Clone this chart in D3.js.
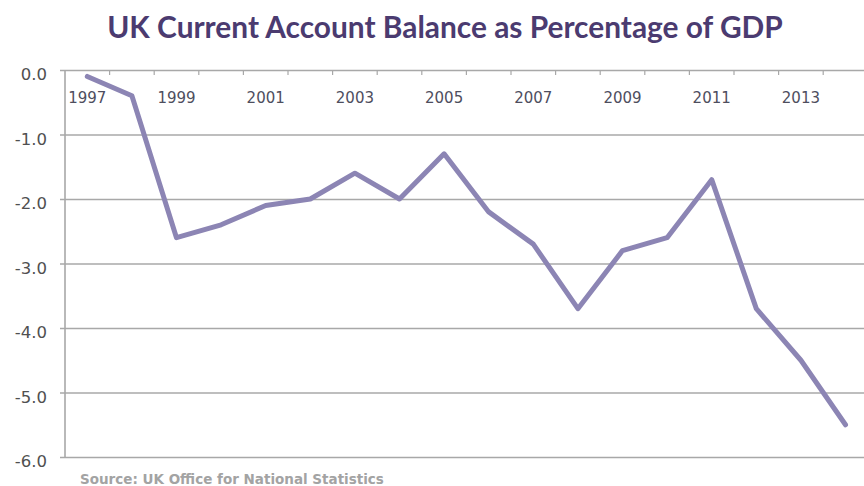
<!DOCTYPE html>
<html>
<head>
<meta charset="utf-8">
<script src="https://cdn.jsdelivr.net/npm/d3@7"></script>
<style>
  body { margin: 0; background: #fff; }
  svg { display: block; }
</style>
</head>
<body>
<svg width="864" height="486"></svg>
<script>
  // data
  var years = [1997, 1998, 1999, 2000, 2001, 2002, 2003, 2004, 2005,
               2006, 2007, 2008, 2009, 2010, 2011, 2012, 2013, 2014];
  var balance = [-0.1, -0.4, -2.6, -2.4, -2.1, -2.0, -1.6, -2.0, -1.3,
                 -2.2, -2.7, -3.7, -2.8, -2.6, -1.7, -3.7, -4.5, -5.5];
  var yTicks = [0, -1, -2, -3, -4, -5, -6];
  var xLabels = [1997, 1999, 2001, 2003, 2005, 2007, 2009, 2011, 2013];

  var svg = d3.select("svg");

  var x = d3.scaleBand().domain(years).range([65, 65 + 18 * 44.6]);
  var y = d3.scaleLinear().domain([-6, 0]).range([457, 70]);

  //gridlines + y labels (plain hyphen, like the original)
  var yAxis = svg.append("g")
    .attr("transform", "translate(65,0)")
    .call(d3.axisLeft(y).tickValues(yTicks).tickSize(-(864 - 65)).tickPadding(18)
      .tickFormat(function(d) { return d.toFixed(1).replace("\u2212", "-"); }));
  yAxis.select(".domain").remove();
  yAxis.selectAll(".tick line").attr("stroke", "#a8a8a8").attr("stroke-width", 1.6)
    .attr("x1", -5);
  yAxis.selectAll(".tick text")
    .attr("font-family", "'DejaVu Sans', sans-serif")
    .attr("font-size", 16.5)
    .attr("dy", "0.6em")
    .attr("fill", "#505050");

  // vertical axis line
  svg.append("line")
    .attr("x1", 65).attr("x2", 65)
    .attr("y1", y(0)).attr("y2", y(-6))
    .attr("stroke", "#a8a8a8").attr("stroke-width", 1.6);

  // category axis sits on the zero line
  var xAxis = svg.append("g")
    .attr("transform", "translate(0," + y(0) + ")")
    .call(d3.axisBottom(x).tickValues(xLabels).tickSize(0).tickPadding(22));
  xAxis.select(".domain").remove();
  xAxis.selectAll(".tick text")
    .attr("font-family", "'DejaVu Sans', sans-serif")
    .attr("font-size", 15)
    .attr("fill", "#4e4e5e");

  // small tick marks between categories
  svg.append("g").selectAll("line")
    .data(years.slice(1))
    .enter().append("line")
    .attr("x1", function(d) { return x(d); })
    .attr("x2", function(d) { return x(d); })
    .attr("y1", y(0)).attr("y2", y(0) + 5)
    .attr("stroke", "#a8a8a8").attr("stroke-width", 1.2);

  var line = d3.line()
    .x(function(d, i) { return x(years[i]) + x.bandwidth() / 2; })
    .y(function(d) { return y(d); });

  svg.append("path")
    .datum(balance)
    .attr("d", line)
    .attr("fill", "none")
    .attr("stroke", "#8c85b4")
    .attr("stroke-width", 5)
    .attr("stroke-linejoin", "round")
    .attr("stroke-linecap", "round");

  var title = svg.append("text")
    .attr("x", 445).attr("y", 38)
    .attr("text-anchor", "middle")
    .attr("font-family", "Lato, sans-serif")
    .attr("font-weight", "bold")
    .attr("font-size", 27)
    .attr("fill", "#4b3b70")
    .text("UK Current Account Balance as Percentage of GDP");
  // size title so it spans the same width as in the original (~676px)
  var tw = title.node().getComputedTextLength();
  title.attr("font-size", 27 * 676 / tw);

  svg.append("text")
    .attr("x", 80).attr("y", 484)
    .attr("font-family", "'DejaVu Sans', sans-serif")
    .attr("font-weight", "bold")
    .attr("font-size", 13.5)
    .attr("fill", "#a3a3a3")
    .text("Source: UK Office for National Statistics");
</script>
</body>
</html>
